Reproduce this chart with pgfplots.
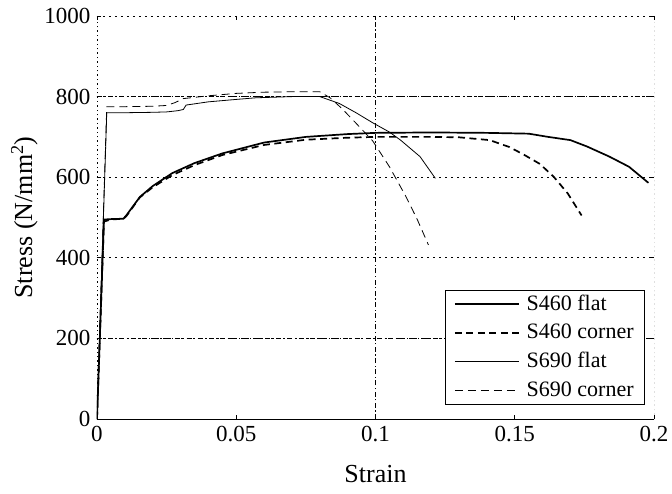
\documentclass[border=0pt]{standalone}
\usepackage{fontspec}
\setmainfont{Liberation Serif}
\usepackage{pgfplots}
\pgfplotsset{compat=1.18}
\begin{document}
\fontsize{22bp}{25bp}\selectfont
\begin{tikzpicture}
\begin{axis}[
  scale only axis, width=557bp, height=403bp,
  xmin=0, xmax=0.2, ymin=0, ymax=1000,
  xtick={0,0.05,0.1,0.15,0.2},
  xticklabels={0,0.05,0.1,0.15,0.2},
  ytick={0,200,400,600,800,1000},
  yticklabels={0,200,400,600,800,1000},
  /pgf/number format/assume math mode=true,
  ticklabel style={font=\fontsize{23bp}{26bp}\selectfont},
  yticklabel style={xshift=1bp},
  label style={font=\fontsize{26bp}{30bp}\selectfont},
  xlabel={Strain}, ylabel={Stress (N/mm\textsuperscript{2})},
  xlabel style={yshift=-8bp},
  ylabel style={yshift=-8bp},
  tick align=inside, major tick length=4bp,
  tick style={black, line width=0.6bp},
  axis line style={draw=none},
  ymajorgrids,
  major grid style={black, line width=0.9bp, dash pattern=on 1.6bp off 4.4bp},
  extra y ticks={200,800}, extra y tick labels={},
  extra y tick style={grid=major, major grid style={black, line width=0.7bp, dash pattern=on 5bp off 2.5bp on 1.2bp off 2.5bp}},
  extra x ticks={0.1}, extra x tick labels={},
  extra x tick style={grid=major, major grid style={black, line width=0.7bp, dash pattern=on 5bp off 2.5bp on 1.2bp off 2.5bp}},
  legend cell align=left,
  legend style={at={(0.9835,0.035)}, anchor=south east, draw=black,
    font=\fontsize{22bp}{25bp}\selectfont, row sep=6.5bp, column sep=5bp,
    inner xsep=9bp, inner ysep=3bp},
  legend image code/.code={\draw[#1] (0bp,0bp) -- (64bp,0bp);},
]
\draw[black, line width=0.9bp] (rel axis cs:0,0) -- (rel axis cs:1,0);
\draw[black, line width=0.9bp, dash pattern=on 1.4bp off 3bp] (rel axis cs:0,0) -- (rel axis cs:0,1);
\draw[black, line width=0.9bp, dash pattern=on 1.4bp off 3bp] (rel axis cs:1,0) -- (rel axis cs:1,1);

\addplot[black, line width=1.7bp] coordinates {
(0,0) (0.0025,495) (0.005,496) (0.0095,497) (0.0105,505) (0.0154,551) (0.02,578)
(0.027,610) (0.035,635) (0.045,659) (0.06,686) (0.075,700) (0.09,707) (0.1,710)
(0.12,711) (0.14,710) (0.155,708) (0.162,700) (0.17,692) (0.176,676) (0.184,651)
(0.191,626) (0.198,586)};
\addlegendentry{S460 flat}

\addplot[black, line width=1.7bp, dash pattern=on 7bp off 4.5bp] coordinates {
(0,0) (0.0025,490) (0.005,495) (0.0095,497) (0.0105,503) (0.0154,550) (0.02,575)
(0.027,605) (0.035,630) (0.045,655) (0.06,680) (0.075,693) (0.09,698) (0.1,700)
(0.12,700) (0.13,699) (0.141,692) (0.148,675) (0.153,657) (0.159,633) (0.164,601)
(0.169,560) (0.174,505)};
\addlegendentry{S460 corner}

\addplot[black, line width=0.8bp] coordinates {
(0,0) (0.0035,760) (0.01,760) (0.02,761) (0.025,762) (0.029,765) (0.031,768)
(0.032,779) (0.04,787) (0.05,793) (0.057,797) (0.07,800) (0.08,800) (0.087,783)
(0.093,760) (0.099,735) (0.105,712) (0.109,692) (0.116,651) (0.1215,597)};
\addlegendentry{S690 flat}

\addplot[black, line width=0.8bp, dash pattern=on 8bp off 5bp] coordinates {
(0,0) (0.0035,775) (0.01,775) (0.02,776) (0.025,778) (0.028,785) (0.031,795)
(0.04,802) (0.05,808) (0.06,811) (0.07,812) (0.08,812) (0.0837,797) (0.088,770)
(0.093,734) (0.099,690) (0.105,626) (0.111,551) (0.115,495) (0.119,432)};
\addlegendentry{S690 corner}
\end{axis}
\pgfresetboundingbox
\path ([shift={(-97bp,-75bp)}]current axis.south west) rectangle ([shift={(18bp,16bp)}]current axis.north east);
\end{tikzpicture}
\end{document}
